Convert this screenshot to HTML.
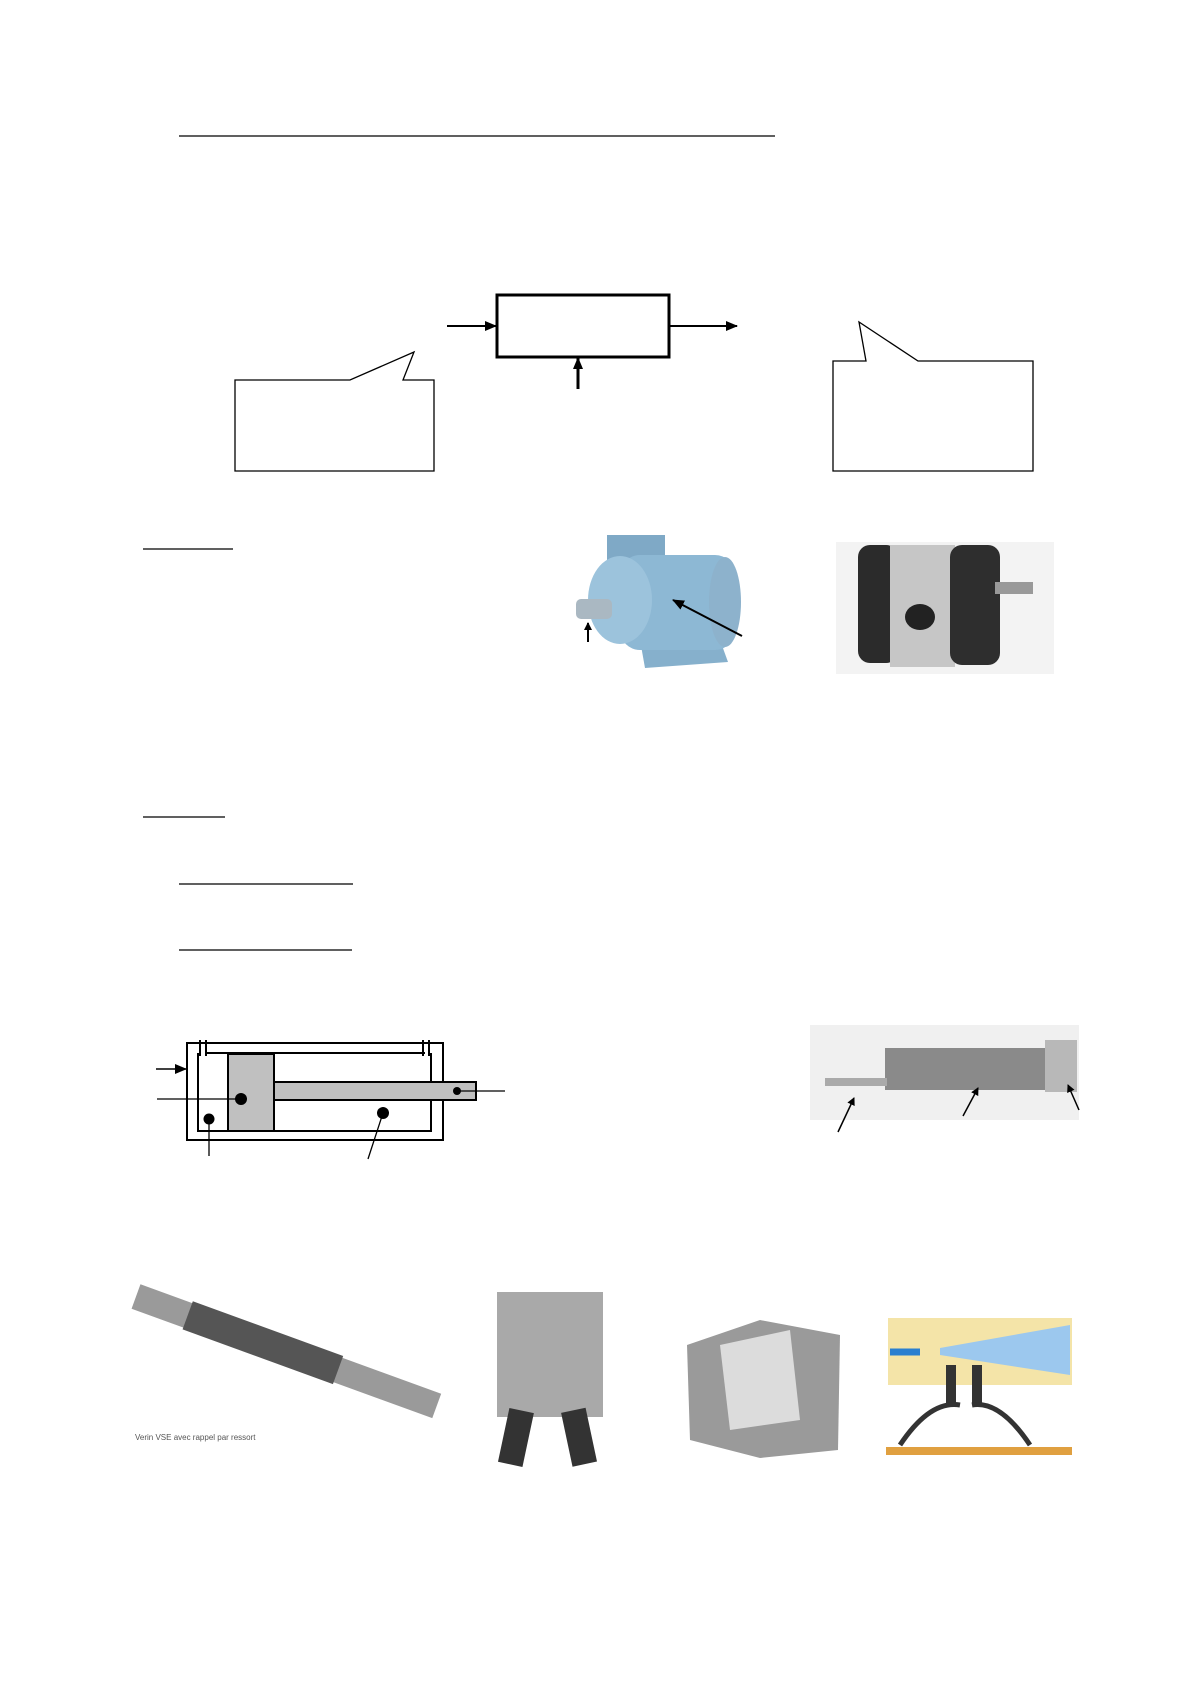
<!DOCTYPE html>
<html><head><meta charset="utf-8"><style>
html,body{margin:0;padding:0;background:#fff}
svg{display:block}
</style></head><body>
<svg width="1191" height="1684" viewBox="0 0 1191 1684" xmlns="http://www.w3.org/2000/svg" font-family="Liberation Sans, sans-serif">
<defs><marker id="a" markerWidth="8" markerHeight="8" refX="7" refY="4" orient="auto" markerUnits="userSpaceOnUse"><path d="M0,0 L8,4 L0,8z" fill="#000"/></marker>
<marker id="b" markerWidth="12" markerHeight="10" refX="11" refY="5" orient="auto" markerUnits="userSpaceOnUse"><path d="M0,0 L12,5 L0,10z" fill="#000"/></marker></defs>
<line x1="179" y1="136" x2="775" y2="136" stroke="#000" stroke-width="1.2"/>
<rect x="497" y="295" width="172" height="62" fill="none" stroke="#000" stroke-width="3"/>
<line x1="447" y1="326" x2="496" y2="326" stroke="#000" stroke-width="2" marker-end="url(#b)"/>
<line x1="669" y1="326" x2="737" y2="326" stroke="#000" stroke-width="2" marker-end="url(#b)"/>
<line x1="578" y1="389" x2="578" y2="358" stroke="#000" stroke-width="3" marker-end="url(#b)"/>
<path d="M235,380 H350 L414,352 L403,380 H434 V471 H235 Z" fill="none" stroke="#000" stroke-width="1.3"/>
<path d="M833,361 H866 L859,322 L918,361 H1033 V471 H833 Z" fill="none" stroke="#000" stroke-width="1.3"/>
<line x1="143" y1="549" x2="233" y2="549" stroke="#000" stroke-width="1.2"/>
<line x1="143" y1="817" x2="225" y2="817" stroke="#000" stroke-width="1.2"/>
<line x1="179" y1="884" x2="353" y2="884" stroke="#000" stroke-width="1.2"/>
<line x1="179" y1="950" x2="352" y2="950" stroke="#000" stroke-width="1.2"/>
<!-- motor -->
<rect x="607" y="535" width="58" height="32" fill="#7fa9c6"/>
<path d="M640,640 L720,640 L728,662 L645,668 Z" fill="#86b0cc"/>
<rect x="620" y="555" width="115" height="95" rx="20" fill="#8db8d4"/>
<ellipse cx="620" cy="600" rx="32" ry="44" fill="#9cc3dc"/>
<rect x="576" y="599" width="36" height="20" rx="5" fill="#aab8c2"/>
<ellipse cx="725" cy="602" rx="16" ry="45" fill="#8db2cc"/>
<line x1="742" y1="636" x2="673" y2="600" stroke="#000" stroke-width="2" marker-end="url(#b)"/>
<line x1="588" y1="642" x2="588" y2="623" stroke="#000" stroke-width="2" marker-end="url(#a)"/>
<!-- pump -->
<rect x="836" y="542" width="218" height="132" fill="#f3f3f3"/>
<rect x="858" y="545" width="40" height="118" rx="12" fill="#2b2b2b"/>
<rect x="890" y="545" width="65" height="122" fill="#c6c6c6"/>
<rect x="950" y="545" width="50" height="120" rx="12" fill="#2e2e2e"/>
<ellipse cx="920" cy="617" rx="15" ry="13" fill="#222"/>
<rect x="995" y="582" width="38" height="12" fill="#999"/>
<!-- cylinder diagram -->
<g stroke="#000" stroke-width="2" fill="none">
<rect x="187" y="1043" width="256" height="97"/>
<path d="M198,1053 V1131 H431 V1053"/>
<line x1="207" y1="1053" x2="425" y2="1053"/>
<line x1="200" y1="1040" x2="200" y2="1056"/><line x1="206" y1="1040" x2="206" y2="1056"/>
<line x1="423" y1="1040" x2="423" y2="1056"/><line x1="429" y1="1040" x2="429" y2="1056"/>
</g>
<rect x="228" y="1054" width="46" height="77" fill="#c0c0c0" stroke="#000" stroke-width="2"/>
<rect x="274" y="1082" width="202" height="18" fill="#c0c0c0" stroke="#000" stroke-width="2"/>
<line x1="156" y1="1069" x2="186" y2="1069" stroke="#000" stroke-width="1.5" marker-end="url(#b)"/>
<line x1="157" y1="1099" x2="241" y2="1099" stroke="#000" stroke-width="1.3"/>
<circle cx="241" cy="1099" r="6"/>
<circle cx="209" cy="1119" r="5.5"/><line x1="209" y1="1119" x2="209" y2="1156" stroke="#000" stroke-width="1.3"/>
<circle cx="383" cy="1113" r="6"/><line x1="383" y1="1113" x2="368" y2="1159" stroke="#000" stroke-width="1.3"/>
<circle cx="457" cy="1091" r="4"/><line x1="457" y1="1091" x2="505" y2="1091" stroke="#000" stroke-width="1.3"/>
<!-- photo cylinder -->
<rect x="810" y="1025" width="269" height="95" fill="#f0f0f0"/>
<rect x="885" y="1048" width="170" height="42" fill="#8a8a8a"/>
<rect x="825" y="1078" width="62" height="8" fill="#aaa"/>
<rect x="1045" y="1040" width="32" height="52" fill="#b8b8b8"/>
<line x1="838" y1="1132" x2="854" y2="1098" stroke="#000" stroke-width="1.5" marker-end="url(#a)"/>
<line x1="963" y1="1116" x2="978" y2="1088" stroke="#000" stroke-width="1.5" marker-end="url(#a)"/>
<line x1="1079" y1="1110" x2="1068" y2="1085" stroke="#000" stroke-width="1.5" marker-end="url(#a)"/>
<!-- bottom images -->
<g transform="rotate(20 285 1355)"><rect x="125" y="1338" width="320" height="26" fill="#9a9a9a"/><rect x="180" y="1336" width="160" height="30" fill="#555"/></g>
<text x="135" y="1440" font-size="8" fill="#555">Verin VSE avec rappel par ressort</text>
<rect x="497" y="1292" width="106" height="125" fill="#a9a9a9"/>
<rect x="505" y="1410" width="25" height="55" fill="#333" transform="rotate(12 517 1430)"/>
<rect x="565" y="1410" width="25" height="55" fill="#333" transform="rotate(-12 577 1430)"/>
<path d="M687,1345 L760,1320 L840,1335 L838,1450 L760,1458 L690,1440 Z" fill="#9a9a9a"/>
<path d="M720,1345 L790,1330 L800,1420 L730,1430 Z" fill="#dcdcdc"/>
<rect x="888" y="1318" width="184" height="67" fill="#f4e4a8"/>
<path d="M940,1348 L1070,1325 V1375 L940,1355 Z" fill="#9cc8ee"/>
<path d="M890,1352 H920" stroke="#2a7fd0" stroke-width="7"/>
<rect x="946" y="1365" width="10" height="40" fill="#333"/><rect x="972" y="1365" width="10" height="40" fill="#333"/>
<path d="M900,1445 Q930,1400 960,1405 M1030,1445 Q1000,1400 972,1405" stroke="#333" stroke-width="5" fill="none"/>
<rect x="886" y="1447" width="186" height="8" fill="#e0a040"/>
</svg>
</body></html>
